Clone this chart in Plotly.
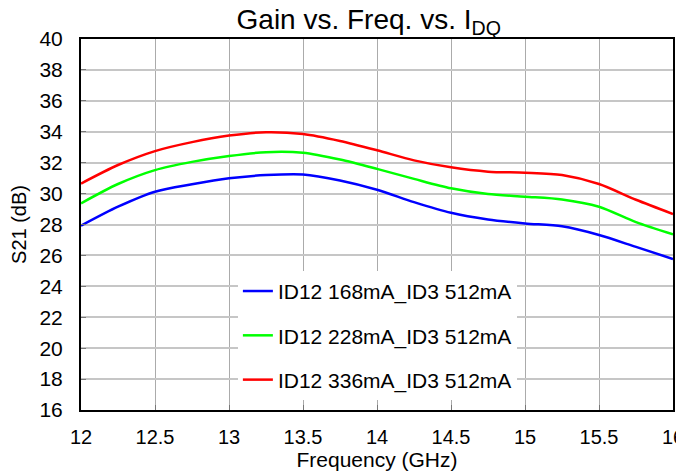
import plotly.graph_objects as go

# frequency sweep (GHz)
freq = [12, 12.25, 12.5, 12.75, 13, 13.25, 13.5, 13.75, 14,
        14.25, 14.5, 14.75, 15, 15.25, 15.5, 15.75, 16]

# S21 (dB) per bias condition
s21_168 = [27.92, 29.15, 30.12, 30.6, 30.99, 31.2, 31.24, 30.85, 30.25,
           29.45, 28.76, 28.33, 28.07, 27.88, 27.32, 26.55, 25.77]
s21_228 = [29.37, 30.62, 31.52, 32.05, 32.43, 32.68, 32.64, 32.2, 31.6,
           30.95, 30.34, 29.97, 29.8, 29.62, 29.15, 28.15, 27.36]
s21_336 = [30.65, 31.85, 32.75, 33.33, 33.75, 33.97, 33.85, 33.4, 32.8,
           32.15, 31.7, 31.42, 31.35, 31.2, 30.62, 29.6, 28.68]

names = ['ID12 168mA_ID3 512mA', 'ID12 228mA_ID3 512mA', 'ID12 336mA_ID3 512mA']
colors = ['#0000ff', '#00ff00', '#ff0000']

FONT = 'Liberation Sans, Arial, sans-serif'

fig = go.Figure()
for i, (ys, name, col) in enumerate(zip([s21_168, s21_228, s21_336], names, colors)):
    fig.add_trace(go.Scatter(x=freq, y=ys, name=name, mode='lines',
                             line=dict(color=col, width=2.5, shape='spline', smoothing=0.8),
                             legendgroup=f'g{i}'))

axis_common = dict(showgrid=True, showline=True, linecolor='black', linewidth=2, mirror=True,
                   ticks='inside', ticklen=5, tickcolor='#777', zeroline=False,
                   automargin=False, ticklabeloverflow='allow')

fig.update_xaxes(range=[12, 16], dtick=0.5, tick0=12, ticklabelstandoff=8,
                 gridcolor='#ababab', gridwidth=1.2,
                 tickfont=dict(size=20, color='black', family=FONT),
                 title=dict(text='Frequency (GHz)', font=dict(size=21, family=FONT, color='black'),
                            standoff=0),
                 **axis_common)
fig.update_yaxes(range=[16, 40], dtick=2, tick0=16, ticklabelstandoff=12,
                 gridcolor='#c6c6c6', gridwidth=2,
                 tickfont=dict(size=21, color='black', family=FONT),
                 title=dict(text='S21 (dB)', font=dict(size=20, family=FONT, color='black'),
                            standoff=9),
                 **axis_common)

# page body adds an 8px offset, so the figure is 8px smaller than the window
fig.update_layout(
    width=676, height=467,
    margin=dict(l=73, r=11, t=31, b=65),
    paper_bgcolor='white', plot_bgcolor='white',
    title=dict(text='Gain vs. Freq. vs. I<sub>DQ</sub>', xref='paper', x=0.486, xanchor='center',
               y=0.975, yanchor='middle',
               font=dict(size=28, family=FONT, color='black')),
    font=dict(family=FONT, color='black'),
    legend=dict(x=0.265, y=0.375, xanchor='left', yanchor='top',
                bgcolor='white', borderwidth=0, tracegroupgap=14,
                font=dict(size=21, family=FONT, color='black'),
                itemwidth=30),
    showlegend=True,
)

fig.write_html("out.html")
